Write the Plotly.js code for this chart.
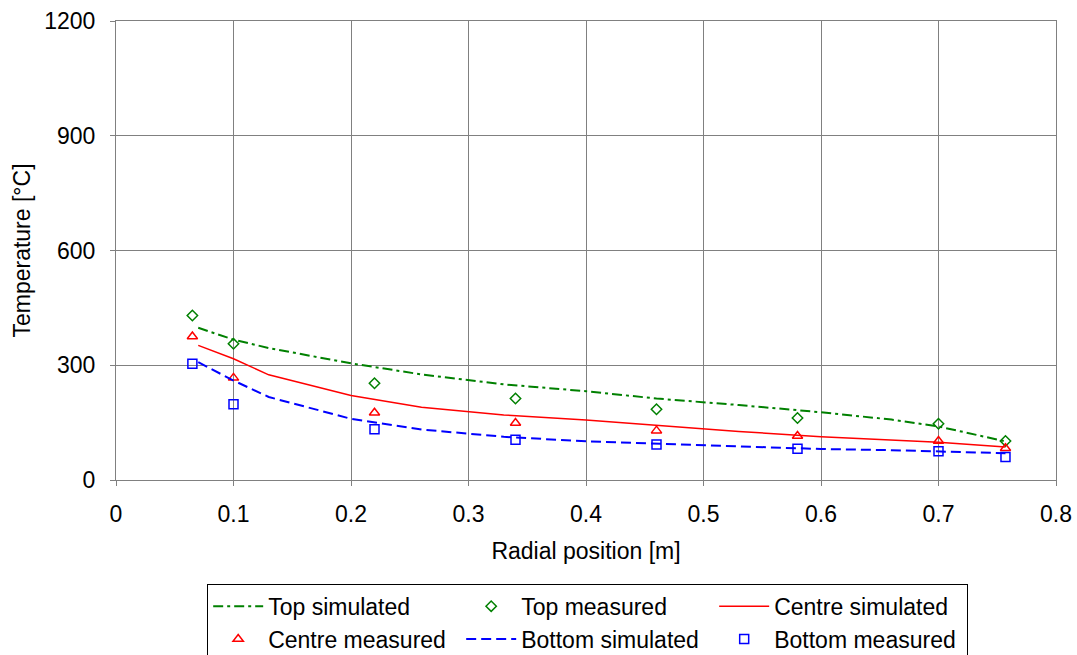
<!DOCTYPE html>
<html>
<head>
<meta charset="utf-8">
<script src="https://cdn.plot.ly/plotly-3.0.1.min.js"></script>
<style>
  html, body { margin: 0; padding: 0; background: #fff; }
  #chart { width: 1077px; height: 655px; }
</style>
</head>
<body>
<div id="chart"></div>
<script>
// Radial positions of the simulated profiles [m]
const simX = [0.07, 0.10, 0.13, 0.20, 0.26, 0.33, 0.40, 0.46, 0.53, 0.60, 0.66, 0.70, 0.757];
const topSim    = [398, 367, 345, 305, 276, 250, 232, 213, 196, 177, 158, 140, 101];
const centreSim = [352, 317, 275, 221, 190, 170, 157, 143, 127, 113, 105,  99,  86];
const bottomSim = [308, 260, 217, 160, 132, 113, 101,  95,  88,  81,  78,  75,  70];

// Thermocouple positions and readings
const measX = [0.065, 0.10, 0.22, 0.34, 0.46, 0.58, 0.70, 0.757];
const topMeas    = [430, 356, 253, 213, 185, 162, 147, 102];
const centreMeas = [375, 267, 176, 149, 129, 115, 102,  83];
const bottomMeas = [304, 198, 133, 105,  93,  82,  75,  60];

const FONT = 'Liberation Sans, Arial, sans-serif';

const traces = [
  { x: simX, y: topSim, name: 'Top simulated', mode: 'lines',
    line: { color: '#008000', width: 2, dash: '10px,4px,3px,4px' } },
  { x: measX, y: topMeas, name: 'Top measured', mode: 'markers',
    marker: { symbol: 'diamond-open', color: '#008000', size: 8, line: { width: 1.5 } } },
  { x: simX, y: centreSim, name: 'Centre simulated', mode: 'lines',
    line: { color: '#ff0000', width: 1.5 } },
  { x: measX, y: centreMeas, name: 'Centre measured', mode: 'markers',
    marker: { symbol: 'triangle-up-open', color: '#ff0000', size: 9, line: { width: 1.5 } } },
  { x: simX, y: bottomSim, name: 'Bottom simulated', mode: 'lines',
    line: { color: '#0000ff', width: 2, dash: '10px,5px' } },
  { x: measX, y: bottomMeas, name: 'Bottom measured', mode: 'markers',
    marker: { symbol: 'square-open', color: '#0000ff', size: 9, line: { width: 1.5 } } }
];

const layout = {
  width: 1077, height: 655,
  margin: { l: 116, r: 21, t: 21, b: 175, autoexpand: false },
  paper_bgcolor: '#ffffff', plot_bgcolor: '#ffffff',
  font: { family: FONT, size: 23, color: '#000' },
  showlegend: true,
  legend: {
    orientation: 'h', x: 0.097, xanchor: 'left', y: -0.226, yanchor: 'top',
    bordercolor: '#000', borderwidth: 1, bgcolor: '#fff',
    entrywidth: 188, entrywidthmode: 'pixels', itemwidth: 50,
    font: { family: FONT, size: 23, color: '#000' }
  },
  xaxis: {
    range: [0, 0.8], dtick: 0.1, tick0: 0,
    showgrid: true, gridcolor: '#808080', gridwidth: 1,
    showline: true, linecolor: '#808080', mirror: true,
    ticks: 'outside', ticklen: 5, tickcolor: '#808080',
    ticklabelstandoff: 8,
    zeroline: false,
    tickfont: { family: FONT, size: 23 },
    title: { text: 'Radial position [m]', font: { family: FONT, size: 23 }, standoff: 17 }
  },
  yaxis: {
    range: [0, 1200], dtick: 300, tick0: 0,
    showgrid: true, gridcolor: '#808080', gridwidth: 1,
    showline: true, linecolor: '#808080', mirror: true,
    ticks: 'outside', ticklen: 5, tickcolor: '#808080',
    ticklabelstandoff: 10,
    zeroline: false,
    tickfont: { family: FONT, size: 23 },
    title: { text: 'Temperature [°C]', font: { family: FONT, size: 23 }, standoff: 7 }
  }
};

Plotly.newPlot('chart', traces, layout, { displayModeBar: false, staticPlot: true });
</script>
</body>
</html>
